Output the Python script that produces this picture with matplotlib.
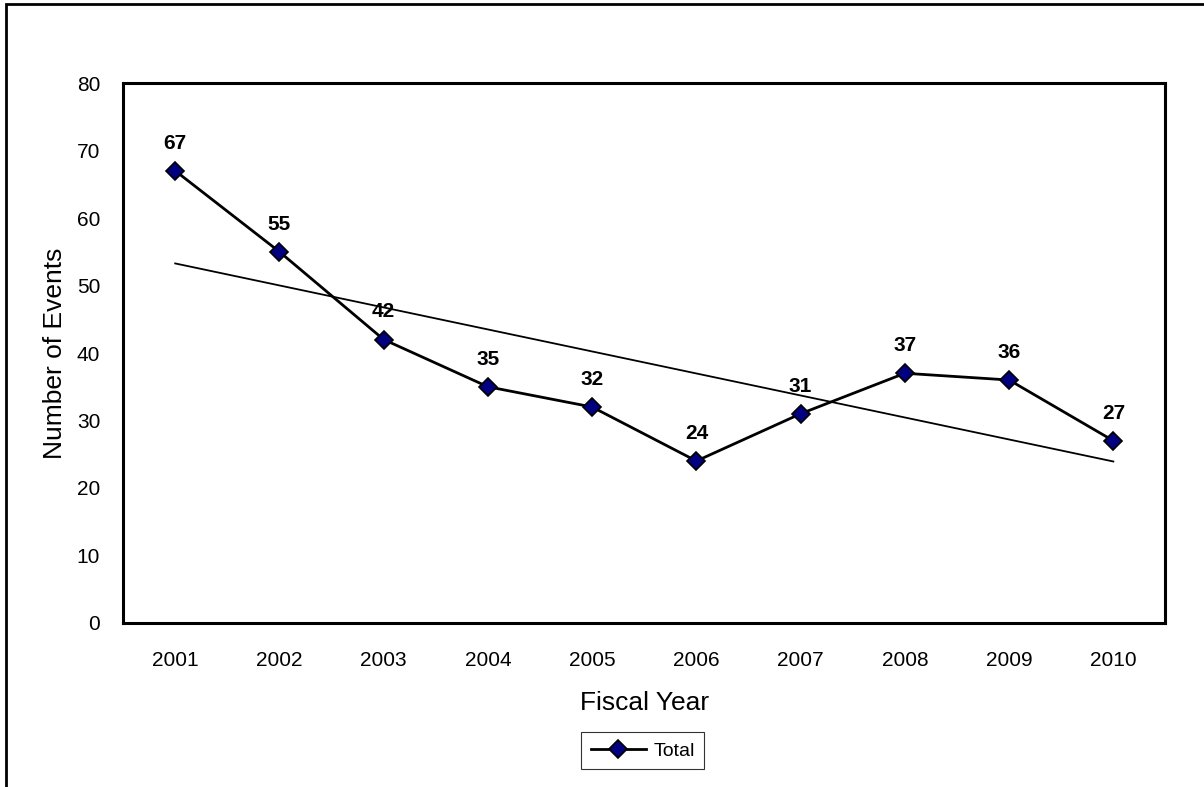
import numpy as np
import matplotlib.pyplot as plt
from matplotlib.patches import Rectangle

plt.rcParams['font.family'] = ['Liberation Sans', 'DejaVu Sans']

# 年度別イベント件数
years = ['2001', '2002', '2003', '2004', '2005', '2006', '2007', '2008', '2009', '2010']
totals = [67, 55, 42, 35, 32, 24, 31, 37, 36, 27]

fig = plt.figure(figsize=(12.04, 7.87), dpi=100)
ax = fig.add_axes([0.1022, 0.2084, 0.8658, 0.6861])

x = np.arange(len(years))
ax.plot(x, totals, color='black', lw=2, marker='D', markersize=9.5,
        markerfacecolor='#000080', markeredgecolor='black', markeredgewidth=1.2,
        label='Total', zorder=3)

# 線形トレンド
coef = np.polyfit(x, totals, 1)
ax.plot(x, np.polyval(coef, x), color='black', lw=1.3, zorder=2)

for xi, v in zip(x, totals):
    ax.annotate(str(v), (xi, v), xytext=(0, 16), textcoords='offset points',
                ha='center', va='baseline', fontsize=15, fontweight='bold')

ax.set_xlim(-0.5, len(years) - 0.5)
ax.set_ylim(0, 80)
ax.set_yticks(range(0, 81, 10))
ax.set_xticks(x)
ax.set_xticklabels(years)
ax.tick_params(axis='both', length=0, labelsize=15)
ax.tick_params(axis='x', pad=20)
ax.tick_params(axis='y', pad=16.5)
for s in ax.spines.values():
    s.set_linewidth(2.2)

ax.set_xlabel('Fiscal Year', fontsize=19, labelpad=15.5)
ax.set_ylabel('Number of Events', fontsize=19, labelpad=7)

leg = fig.legend(loc='center', bbox_to_anchor=(0.534, 0.046), fontsize=14,
                 frameon=True, fancybox=False, edgecolor='black',
                 handlelength=2.8, handletextpad=0.4, borderpad=0.5,
                 borderaxespad=0)
leg.get_frame().set_linewidth(0.8)

# 外枠
fig.patches.append(Rectangle((6 / 1204, -0.1), 1.2, 1 - 4 / 787 + 0.1,
                             transform=fig.transFigure, fill=False,
                             edgecolor='black', lw=2))

fig.savefig('out.png', dpi=100)
